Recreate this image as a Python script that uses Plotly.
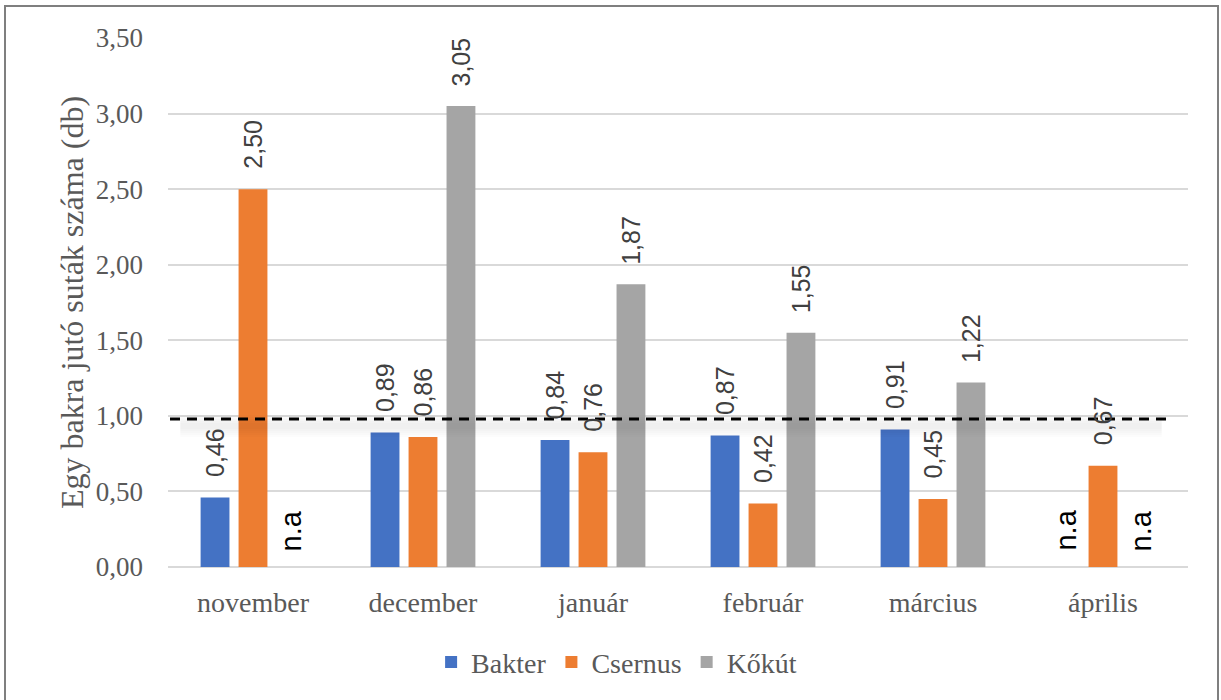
import plotly.graph_objects as go

# Monthly number of does per buck, per hunting area
months = ["november", "december", "január", "február", "március", "április"]
series_names = ["Bakter", "Csernus", "Kőkút"]
bakter = [0.46, 0.89, 0.84, 0.87, 0.91, None]
csernus = [2.50, 0.86, 0.76, 0.42, 0.45, 0.67]
kokut = [None, 3.05, 1.87, 1.55, 1.22, None]
threshold = 0.98
y_ticks = [0.0, 0.5, 1.0, 1.5, 2.0, 2.5, 3.0, 3.5]

colors = ["#4472C4", "#ED7D31", "#A5A5A5"]
all_series = [bakter, csernus, kokut]

W, H = 1221, 700
ML, MR, MT, MB = 168, 33, 38, 133
plot_w = W - ML - MR
bargap, bargroupgap = 0.33, 0.24
cat_px = plot_w / len(months)
slot_px = cat_px * (1 - bargap) / len(all_series)

serif = "Liberation Serif, Times New Roman, serif"
sans = "Liberation Sans, Arial, sans-serif"
axis_grey = "#595959"

fig = go.Figure()
for name, vals, col in zip(series_names, all_series, colors):
    fig.add_trace(go.Bar(
        name=name, x=months, y=vals,
        marker=dict(color=col, line=dict(width=0)),
    ))

annotations = []
for i, vals in enumerate(all_series):
    shift = (i - (len(all_series) - 1) / 2) * slot_px
    for m, v in zip(months, vals):
        if v is None:
            annotations.append(dict(
                x=m, y=0, xref="x", yref="y", text="n.a",
                showarrow=False, textangle=-90, yanchor="bottom",
                xshift=shift, yshift=14,
                font=dict(family=sans, size=29, color="#000000"),
            ))
        else:
            annotations.append(dict(
                x=m, y=v, xref="x", yref="y",
                text=f"{v:.2f}".replace(".", ","),
                showarrow=False, textangle=-90, yanchor="bottom",
                xshift=shift, yshift=18,
                font=dict(family=sans, size=25, color="#404040"),
            ))

# threshold line at ~1 doe per buck, with a soft shadow beneath it
x0_line = (170 - ML) / plot_w
x1_line = (1167 - ML) / plot_w
shapes = []
for width in [22, 18, 14, 10, 6]:
    shapes.append(dict(
        type="line", xref="paper", yref="y", layer="above",
        x0=x0_line + 0.01, x1=x1_line - 0.005, ysizemode="pixel",
        yanchor=threshold, y0=-7, y1=-7,
        line=dict(color="rgba(0,0,0,0.012)", width=width),
    ))
shapes.append(dict(
    type="line", xref="paper", yref="y", layer="above",
    x0=x0_line, x1=x1_line, y0=threshold, y1=threshold,
    line=dict(color="#000000", width=3, dash="10px,7px"),
))
# outer frame of the chart
shapes.append(dict(
    type="rect", xref="paper", yref="paper", layer="above",
    x0=(5 - ML) / plot_w, x1=(1218 - ML) / plot_w,
    y0=(MB - H - 20) / (H - MT - MB), y1=(H - MB - 6) / (H - MT - MB),
    line=dict(color="#7F7F7F", width=2), fillcolor="rgba(0,0,0,0)",
))

fig.update_layout(
    width=W, height=H,
    margin=dict(l=ML, r=MR, t=MT, b=MB, autoexpand=False),
    paper_bgcolor="white", plot_bgcolor="white",
    separators=", ",
    barmode="group", bargap=bargap, bargroupgap=bargroupgap,
    showlegend=True,
    legend=dict(
        orientation="h", xref="container", yref="container",
        x=0.505, xanchor="center", y=0.054, yanchor="middle",
        font=dict(family=serif, size=28, color=axis_grey),
        itemclick=False, itemdoubleclick=False,
    ),
    annotations=annotations,
    shapes=shapes,
    font=dict(family=serif, color=axis_grey),
)
fig.update_xaxes(
    type="category", showgrid=False, showline=False, ticks="",
    tickfont=dict(family=serif, size=28, color=axis_grey),
    ticklabelstandoff=16,
)
fig.update_yaxes(
    range=[0, 3.5], tickvals=y_ticks, tickformat=".2f",
    showgrid=True, gridcolor="#D9D9D9", gridwidth=2,
    zeroline=True, zerolinecolor="#D9D9D9", zerolinewidth=2,
    showline=False, ticks="",
    tickfont=dict(family=serif, size=27, color=axis_grey),
    ticklabelstandoff=24,
    title=dict(text="Egy bakra jutó suták száma (db)", standoff=2,
               font=dict(family=serif, size=32, color=axis_grey)),
)

fig.write_html("out.html")
